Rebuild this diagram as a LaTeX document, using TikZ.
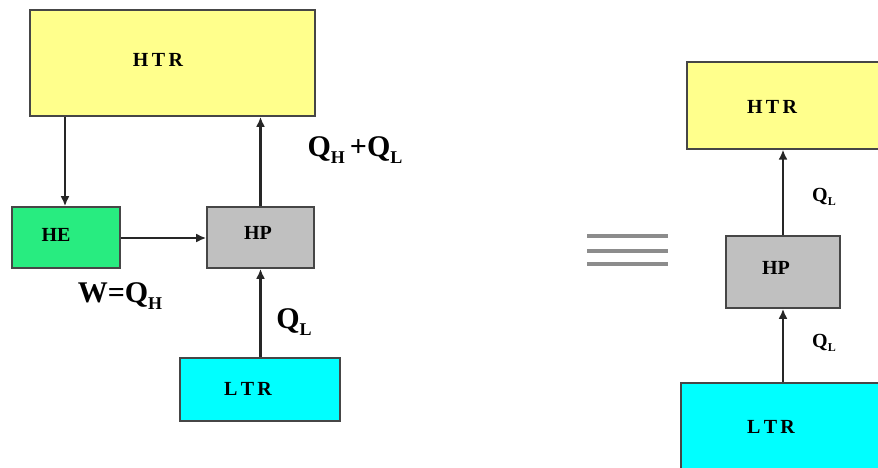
\documentclass[tikz,border=0pt]{standalone}
\usepackage{fontspec}
\setmainfont{Liberation Serif}
\usetikzlibrary{arrows.meta}

\definecolor{htrgelb}{RGB}{255,255,140}
\definecolor{hegruen}{RGB}{40,236,128}
\definecolor{hpgrau}{RGB}{192,192,192}
\definecolor{ltrcyan}{RGB}{0,255,255}
\definecolor{randgrau}{RGB}{70,70,70}

\newcommand{\tief}[1]{\raisebox{-0.45ex}{\fontsize{0.6em}{0.6em}\selectfont #1}}

\tikzset{
    kasten/.style={draw=randgrau, line width=1.6pt, inner sep=0pt},
    beschr/.style={font=\bfseries\fontsize{20}{20}\selectfont, inner sep=0pt},
    fluss/.style={-{Latex[length=10pt, width=9pt]}, line width=2.2pt, black!85},
    gross/.style={font=\bfseries\fontsize{30}{30}\selectfont, inner sep=0pt},
    klein/.style={font=\bfseries\fontsize{20}{20}\selectfont, inner sep=0pt}
}

\begin{document}
\begin{tikzpicture}[x=1pt, y=-1pt]
    \useasboundingbox (0,0) rectangle (878,467);
    \clip (0,0) rectangle (878,467);

    % 左侧：热机 + 热泵
    \node[kasten, fill=htrgelb, minimum width=285pt, minimum height=106pt] (htr) at (172.5,63) {};
    \node[beschr] (htrtext) at (158,60) {H\,T\,R};
    \node[kasten, fill=hegruen, minimum width=108pt, minimum height=61pt] (he) at (66,237.5) {};
    \node[beschr] (hetext) at (56,235) {HE};
    \node[kasten, fill=hpgrau, minimum width=107pt, minimum height=61pt] (hp) at (260.5,237.5) {};
    \node[beschr] (hptext) at (258,233) {HP};
    \node[kasten, fill=ltrcyan, minimum width=160pt, minimum height=63pt] (ltr) at (260,389.5) {};
    \node[beschr] (ltrtext) at (248,389) {L\,T\,R};

    \draw[fluss] (htr.south -| 65,0) -- (he.north -| 65,0);
    \draw[fluss] (he.east |- 0,238) -- (hp.west |- 0,238);
    \draw[fluss] (hp.north) -- (htr.south -| hp.north);
    \draw[fluss] (ltr.north -| hp.south) -- (hp.south);

    \node[gross] (qhql) at (355,150) {Q\tief{H}\,+Q\tief{L}};
    \node[gross] (wqh) at (120,296) {W=Q\tief{H}};
    \node[gross] (ql) at (294,322) {Q\tief{L}};

    % 等号
    \foreach \y in {236, 251, 264} {
        \draw[line width=3.2pt, gray!90] (587,\y) -- (668,\y);
    }

    % 右侧：等效热泵
    \node[kasten, fill=htrgelb, minimum width=220pt, minimum height=87pt, anchor=north west] (rhtr) at (686,61) {};
    \node[beschr] (rhtrtext) at (772,107) {H\,T\,R};
    \node[kasten, fill=hpgrau, minimum width=114pt, minimum height=72pt] (rhp) at (783,272) {};
    \node[beschr] (rhptext) at (776,268) {HP};
    \node[kasten, fill=ltrcyan, minimum width=220pt, minimum height=110pt, anchor=north west] (rltr) at (680,382) {};
    \node[beschr] (rltrtext) at (771,427) {L\,T\,R};

    \draw[fluss] (rhp.north) -- (rhtr.south -| rhp.north);
    \draw[fluss] (rltr.north -| rhp.south) -- (rhp.south);

    \node[klein] (rqloben) at (824,197) {Q\tief{L}};
    \node[klein] (rqlunten) at (824,343) {Q\tief{L}};
\end{tikzpicture}
\end{document}
